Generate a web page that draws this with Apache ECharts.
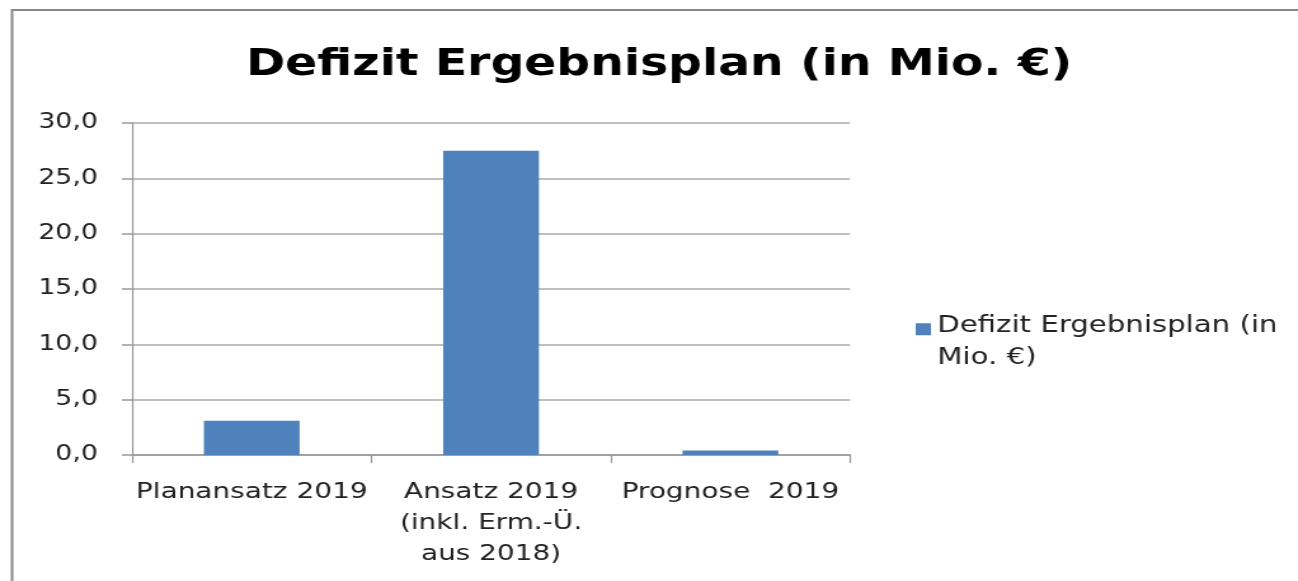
<!DOCTYPE html>
<html>
<head>
<meta charset="utf-8">
<script src="https://cdn.jsdelivr.net/npm/echarts@6/dist/echarts.min.js"></script>
<style>
html,body{margin:0;padding:0;background:#fff;overflow:hidden;}
#wrap{width:1298px;height:581px;overflow:hidden;position:relative;}
#c{width:1022px;height:581px;transform:scaleX(1.27);transform-origin:0 0;}
</style>
</head>
<body>
<div id="wrap"><div id="c"></div></div>
<script>
const titleText = 'Defizit Ergebnisplan (in Mio. €)';
const seriesName = 'Defizit Ergebnisplan (in Mio. €)';
const categories = ['Planansatz 2019', 'Ansatz 2019\n(inkl. Erm.-Ü.\naus 2018)', 'Prognose  2019'];
const values = [3.1, 27.5, 0.4];
const yTicks = [0, 5, 10, 15, 20, 25, 30];

const chart = echarts.init(document.getElementById('c'));
const font = 'DejaVu Sans, Verdana, sans-serif';
chart.setOption({
  animation: false,
  backgroundColor: '#fff',
  graphic: [{
    type: 'rect',
    shape: {x: 9.5, y: 10, width: 1400, height: 700},
    style: {fill: 'none', stroke: '#888', lineWidth: 2},
    silent: true
  }],
  title: {
    text: titleText,
    left: 514, top: 42, textAlign: 'center',
    textStyle: {fontFamily: font, fontWeight: 'bold', fontSize: 37.2, color: '#000'}
  },
  legend: {
    left: 716, top: 305,
    orient: 'vertical',
    icon: 'path://M0,0L1,0L1,1L0,1Z M0,3.13L1,3.13',
    itemWidth: 12, itemHeight: 47, itemGap: 10,
    formatter: () => 'Defizit Ergebnisplan (in\nMio. €)',
    textStyle: {fontFamily: font, fontSize: 23, color: '#222', lineHeight: 32}
  },
  grid: {left: 104, right: 352.7, top: 123, bottom: 126, containLabel: false},
  xAxis: {
    type: 'category',
    data: categories,
    boundaryGap: true,
    axisLine: {lineStyle: {color: '#999', width: 1.5}},
    axisTick: {show: true, length: 8, lineStyle: {color: '#999', width: 1.2}},
    axisLabel: {fontFamily: font, fontSize: 22, color: '#222', margin: 22, lineHeight: 31, interval: 0}
  },
  yAxis: {
    type: 'value',
    min: 0, max: 30, interval: 5,
    axisLine: {show: true, lineStyle: {color: '#999', width: 1.2}},
    axisTick: {show: true, length: 8, lineStyle: {color: '#999', width: 1.5}},
    splitLine: {lineStyle: {color: '#aaa', width: 1.5}},
    axisLabel: {fontFamily: font, fontSize: 21, color: '#222', margin: 27,
      formatter: v => v.toFixed(1).replace('.', ',')}
  },
  series: [{
    name: seriesName,
    type: 'bar',
    data: values,
    barWidth: '40%',
    itemStyle: {color: '#4f81bd'}
  }]
});
</script>
</body>
</html>
